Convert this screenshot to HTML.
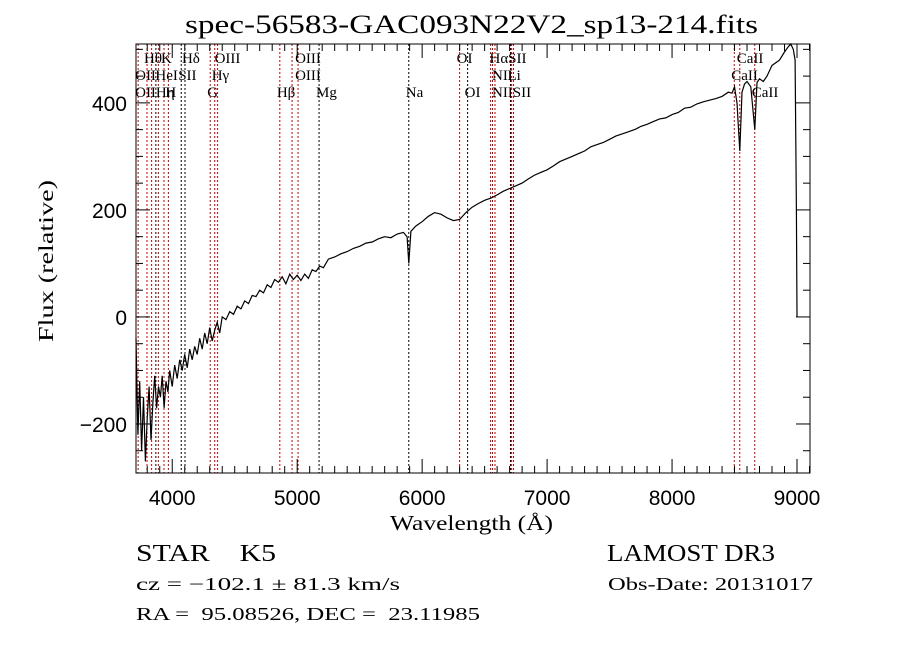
<!DOCTYPE html>
<html><head><meta charset="utf-8"><style>
html,body{margin:0;padding:0;background:#fff;}
svg text{font-family:"Liberation Serif",serif;fill:#000;white-space:pre;}
</style></head><body>
<svg id="chart" width="900" height="649" viewBox="0 0 900 649" xmlns="http://www.w3.org/2000/svg" xml:space="preserve">
<rect width="900" height="649" fill="#fff"/>
<text x="185" y="33" font-size="26" textLength="573" lengthAdjust="spacingAndGlyphs">spec-56583-GAC093N22V2_sp13-214.fits</text>
<g id="lines"></g>
<g id="spec"></g>
<g id="axes"></g>
<text x="390" y="530" font-size="21" textLength="163" lengthAdjust="spacingAndGlyphs">Wavelength (Å)</text>
<text transform="translate(53,342) rotate(-90)" font-size="21" textLength="162" lengthAdjust="spacingAndGlyphs">Flux (relative)</text>
<text x="136" y="561" font-size="24" textLength="140" lengthAdjust="spacingAndGlyphs">STAR    K5</text>
<text x="607" y="561" font-size="24" textLength="168" lengthAdjust="spacingAndGlyphs">LAMOST DR3</text>
<text x="136" y="590" font-size="18" textLength="264" lengthAdjust="spacingAndGlyphs">cz = −102.1 ± 81.3 km/s</text>
<text x="608" y="590" font-size="18" textLength="205" lengthAdjust="spacingAndGlyphs">Obs-Date: 20131017</text>
<text x="136" y="620" font-size="18" textLength="344" lengthAdjust="spacingAndGlyphs">RA =  95.08526, DEC =  23.11985</text>
</svg>
<script>
const waves = [3710,3725,3740,3755,3770,3785,3800,3815,3830,3845,3860,3875,3890,3905,3920,3935,3950,3965,3980,4000,4020,4040,4060,4080,4100,4120,4140,4160,4180,4200,4220,4240,4260,4280,4300,4320,4340,4360,4380,4400,4430,4460,4490,4520,4550,4580,4610,4640,4670,4700,4730,4760,4790,4820,4850,4880,4910,4940,4970,5000,5030,5060,5090,5120,5150,5180,5210,5250,5300,5350,5400,5450,5500,5550,5600,5650,5700,5750,5800,5850,5880,5893,5910,5950,6000,6050,6100,6150,6200,6250,6300,6350,6400,6450,6500,6550,6600,6650,6700,6750,6800,6850,6900,6950,7000,7050,7100,7150,7200,7250,7300,7350,7400,7450,7500,7550,7600,7650,7700,7750,7800,7850,7900,7950,8000,8050,8100,8150,8200,8250,8300,8350,8400,8450,8480,8500,8520,8542,8560,8580,8600,8630,8662,8680,8700,8730,8760,8800,8830,8860,8900,8930,8950,8970,8985,8995,9000];
const flux = [-40,-220,-120,-250,-150,-270,-190,-130,-230,-160,-110,-170,-130,-150,-110,-170,-120,-140,-100,-130,-90,-115,-80,-100,-70,-95,-60,-80,-55,-70,-40,-60,-30,-50,-20,-45,-25,-10,-30,0,-5,10,5,20,15,30,25,40,38,50,45,60,55,70,65,75,62,80,70,78,68,80,72,88,85,95,92,108,112,118,122,128,132,138,140,146,150,148,155,158,150,100,160,170,178,188,195,192,185,180,182,195,205,212,218,222,228,235,240,245,250,258,265,270,275,282,290,295,300,305,310,318,322,326,332,338,342,346,350,356,360,365,370,372,378,382,390,392,398,402,405,408,412,420,418,430,400,310,420,435,440,430,350,438,445,440,450,470,475,480,495,505,510,500,480,200,0];
const lineWaves = [3727,3798,3835,3869,3889,3934,3969,4072,4102,4304,4340,4363,4861,4959,5007,5175,5893,6300,6364,6548,6563,6583,6707,6716,6731,8498,8542,8662];
const lineKinds = ["r","r","r","k","r","r","r","k","k","r","r","r","r","r","r","k","k","r","k","r","r","r","k","r","r","r","r","r"];
const labelTexts = ["Hθ","K","Hδ","OIII","OIII","OI","HαSII","CaII","OII","HeI","SII","Hγ","OIII","NII","Li","CaII","OIIHη","H","G","Hβ","Mg","Na","OI","NIISII","CaII"];
const labelWaves = [3798,3934,4102,4363,5007,6300,6563,8542,3727,3889,4072,4340,5007,6583,6707,8498,3727,3969,4304,4861,5175,5893,6364,6583,8662];
const labelRows = [0,0,0,0,0,0,0,0,1,1,1,1,1,1,1,1,2,2,2,2,2,2,2,2,2];
const xTicks = [4000,5000,6000,7000,8000,9000];
const yTicks = [-200,0,200,400];

const L=136,R=810,T=44,B=473;
const X0=3710,X1=9104,Y0=-291.6,Y1=510;
const sx=w=>L+(w-X0)/(X1-X0)*(R-L);
const sy=f=>B-(f-Y0)/(Y1-Y0)*(B-T);
const NS="http://www.w3.org/2000/svg";
function mk(tag,attrs,parent){const e=document.createElementNS(NS,tag);for(const k in attrs)e.setAttribute(k,attrs[k]);parent.appendChild(e);return e;}
const gl=document.getElementById('lines'),gs=document.getElementById('spec'),ga=document.getElementById('axes');
lineWaves.forEach((w,i)=>{
 const l=mk('line',{x1:sx(w),x2:sx(w),y1:T,y2:B,stroke:lineKinds[i]==='r'?'#c00000':'#000','stroke-width':1,'stroke-dasharray':'2,2'},gl);
 
 
});
labelTexts.forEach((t,i)=>{
 const e=mk('text',{x:sx(labelWaves[i])-3,y:63+labelRows[i]*17,'font-size':15},gl);
 e.textContent=t;
 
 
});
let d='';
waves.forEach((w,i)=>{d+=(i?'L':'M')+sx(w).toFixed(1)+','+sy(flux[i]).toFixed(1);});
const p=mk('path',{d:d,fill:'none',stroke:'#000','stroke-width':1.2},gs);


const fr=mk('rect',{x:L,y:T,width:R-L,height:B-T,fill:'none',stroke:'#000','stroke-width':1},ga);


for(let w=3800;w<=9100;w+=100){
 const len=(w%1000===0)?14:7;
 mk('line',{x1:sx(w),x2:sx(w),y1:B,y2:B-len,stroke:'#000'},ga);
 mk('line',{x1:sx(w),x2:sx(w),y1:T,y2:T+len,stroke:'#000'},ga);
}
for(let f=-250;f<=500;f+=50){
 const len=(f%200===0)?14:7;
 mk('line',{x1:L,x2:L+len,y1:sy(f),y2:sy(f),stroke:'#000'},ga);
 mk('line',{x1:R,x2:R-len,y1:sy(f),y2:sy(f),stroke:'#000'},ga);
}
xTicks.forEach(v=>{
 const e=mk('text',{x:sx(v),y:505,'font-size':21,'text-anchor':'middle',style:'font-family:"Liberation Sans",sans-serif'},ga);
 e.textContent=v;
 
 
});
yTicks.forEach(v=>{
 const e=mk('text',{x:127,y:sy(v)+8,'font-size':21,'text-anchor':'end',style:'font-family:"Liberation Sans",sans-serif'},ga);
 e.textContent=v<0?'−'+(-v):v;
 
 
});
</script>
</body></html>
